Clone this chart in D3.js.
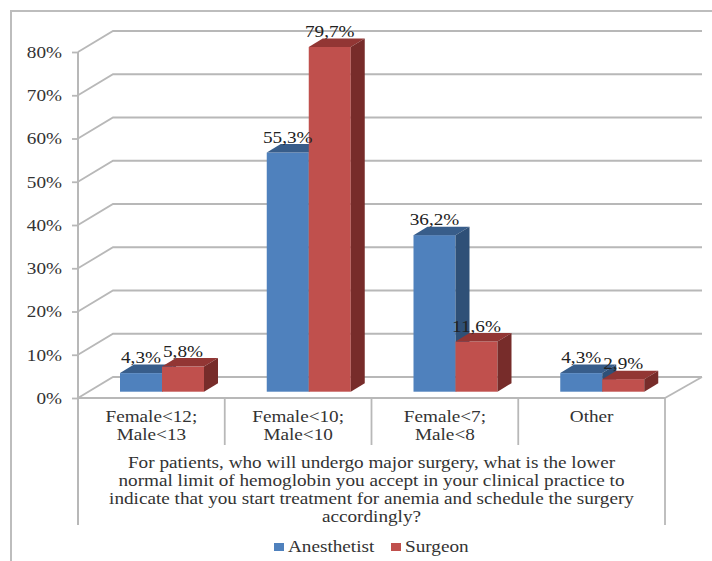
<!DOCTYPE html>
<html>
<head>
<meta charset="utf-8">
<script src="https://cdn.jsdelivr.net/npm/d3@7"></script>
<style>
  html, body { margin: 0; padding: 0; background: #fff; }
  svg { display: block; }
  text { font-family: "Liberation Serif", serif; fill: #333; }
</style>
</head>
<body>
<div id="chart"></div>
<script>
// Chart data
const categories = [["Female<12;", "Male<13"], ["Female<10;", "Male<10"], ["Female<7;", "Male<8"], ["Other"]];
const seriesNames = ["Anesthetist", "Surgeon"];
const anesthetist = [4.3, 55.3, 36.2, 4.3];
const surgeon = [5.8, 79.7, 11.6, 2.9];
const yTicks = [0, 10, 20, 30, 40, 50, 60, 70, 80];
const axisTitle = [
  "For patients, who will undergo major surgery, what is the lower",
  "normal limit of hemoglobin you accept in your clinical practice to",
  "indicate that you start treatment for anemia and schedule the surgery",
  "accordingly?"
];
const faces = {
  Anesthetist: { front: "#4f81bd", top: "#385d8a", side: "#2f5077" },
  Surgeon: { front: "#c0504d", top: "#923634", side: "#772c2a" }
};

const width = 712, height = 561;
const gridColor = "#b8b8b8";
const wide = 1.2; // horizontal stretch of the serif labels
const wallDx = 35, wallDy = -21;
const barDx = 14, barDy = -8.5, barLift = -6.3;

const svg = d3.select("#chart").append("svg").attr("width", width).attr("height", height);

// Outer frame: only the top and left edges fall inside the canvas
svg.append("path")
  .attr("d", "M11,561V11H712")
  .attr("fill", "none").attr("stroke", "#bdbdbd").attr("stroke-width", 2);

const y = d3.scaleLinear().domain([0, 80]).range([398, 52]);
const x0 = d3.scaleBand().domain(d3.range(categories.length)).range([78, 665]);
const x1 = d3.scaleBand().domain(seriesNames).range([42, 126]);

// Back wall gridlines with their slanted returns along the side wall
const grid = svg.append("g").attr("fill", "none").attr("stroke", gridColor).attr("stroke-width", 1.8);
grid.selectAll("path").data(yTicks).join("path")
  .attr("d", t => `M78,${y(t)}l${wallDx},${wallDy}H702`);

// Floor edge on the right
grid.append("path").attr("d", `M665,${y(0)}l37,${wallDy}`);

// Front of the floor and the dividers under it
grid.append("path").attr("d", `M78,${y(0)}H665`);
grid.selectAll(".divider").data(d3.range(1, categories.length)).join("line")
  .attr("class", "divider")
  .attr("x1", i => x0(i)).attr("x2", i => x0(i))
  .attr("y1", y(0)).attr("y2", 445);
grid.append("path").attr("d", `M665,${y(0)}V525`);

// Value axis
const axis = d3.axisLeft(y).tickValues(yTicks).tickSize(6).tickPadding(10).tickFormat(d => d + "%");
const axisG = svg.append("g").attr("transform", "translate(78,0)").call(axis);
axisG.select(".domain").attr("d", `M0,${y(80)}V525`).attr("stroke", gridColor).attr("stroke-width", 2).attr("fill", "none");
axisG.selectAll(".tick line").attr("stroke", gridColor).attr("stroke-width", 1.8);
axisG.selectAll(".tick text")
  .attr("x", -16 / wide).attr("dy", "0.33em")
  .attr("transform", `scale(${wide},1)`)
  .style("font-size", "16px").style("font-family", "'Liberation Serif', serif").style("fill", "#333");

// Bars, each with front, top and side faces
const rows = categories.flatMap((c, i) => [
  { i, name: seriesNames[0], value: anesthetist[i] },
  { i, name: seriesNames[1], value: surgeon[i] }
]);
const barTop = d => y(d.value) + barLift;
const barLeft = d => x0(d.i) + x1(d.name);
const bw = x1.bandwidth();

const bars = svg.append("g").selectAll("g").data(rows).join("g");
bars.append("rect")
  .attr("x", barLeft).attr("y", barTop)
  .attr("width", bw).attr("height", d => y(0) - y(d.value))
  .attr("fill", d => faces[d.name].front);
bars.append("path")
  .attr("d", d => `M${barLeft(d)},${barTop(d)}l${barDx},${barDy}h${bw}l${-barDx},${-barDy}z`)
  .attr("fill", d => faces[d.name].top);
bars.append("path")
  .attr("d", d => `M${barLeft(d) + bw},${barTop(d)}l${barDx},${barDy}V${y(0) + barLift + barDy}l${-barDx},${-barDy}z`)
  .attr("fill", d => faces[d.name].side);

// Value labels with a decimal comma
const pct = d3.formatLocale({ decimal: ",", thousands: ".", grouping: [3], currency: ["", ""] }).format(".1f");
svg.append("g").selectAll("text").data(rows).join("text")
  .attr("text-anchor", "middle")
  .attr("transform", d => `translate(${barLeft(d) + bw / 2},${barTop(d) - 10}) scale(${wide},1)`)
  .style("font-size", "16px")
  .style("fill", "#222")
  .text(d => pct(d.value) + "%");

// Category labels
const catText = svg.append("g").selectAll("g").data(categories).join("g");
catText.selectAll("text").data((c, i) => c.map((line, k) => ({ line, k, i }))).join("text")
  .attr("text-anchor", "middle")
  .attr("transform", d => `translate(${x0(d.i) + x0.bandwidth() / 2},${422 + d.k * 18.3}) scale(${wide},1)`)
  .style("font-size", "16px")
  .text(d => d.line);

// Axis title
svg.append("g").selectAll("text").data(axisTitle).join("text")
  .attr("text-anchor", "middle")
  .attr("transform", (d, k) => `translate(371.5,${468 + k * 18}) scale(${wide},1)`)
  .style("font-size", "16px")
  .text(d => d);

// Legend
const legendX = d3.scaleOrdinal().domain(seriesNames).range([274, 391]);
const legend = svg.append("g").selectAll("g").data(seriesNames).join("g")
  .attr("transform", d => `translate(${legendX(d)},0)`);
legend.append("rect").attr("x", 0).attr("y", 543).attr("width", 10).attr("height", 8)
  .attr("fill", d => faces[d].front);
legend.append("text")
  .attr("transform", `translate(14,552) scale(${wide},1)`)
  .style("font-size", "16px")
  .text(d => d);
</script>
</body>
</html>
